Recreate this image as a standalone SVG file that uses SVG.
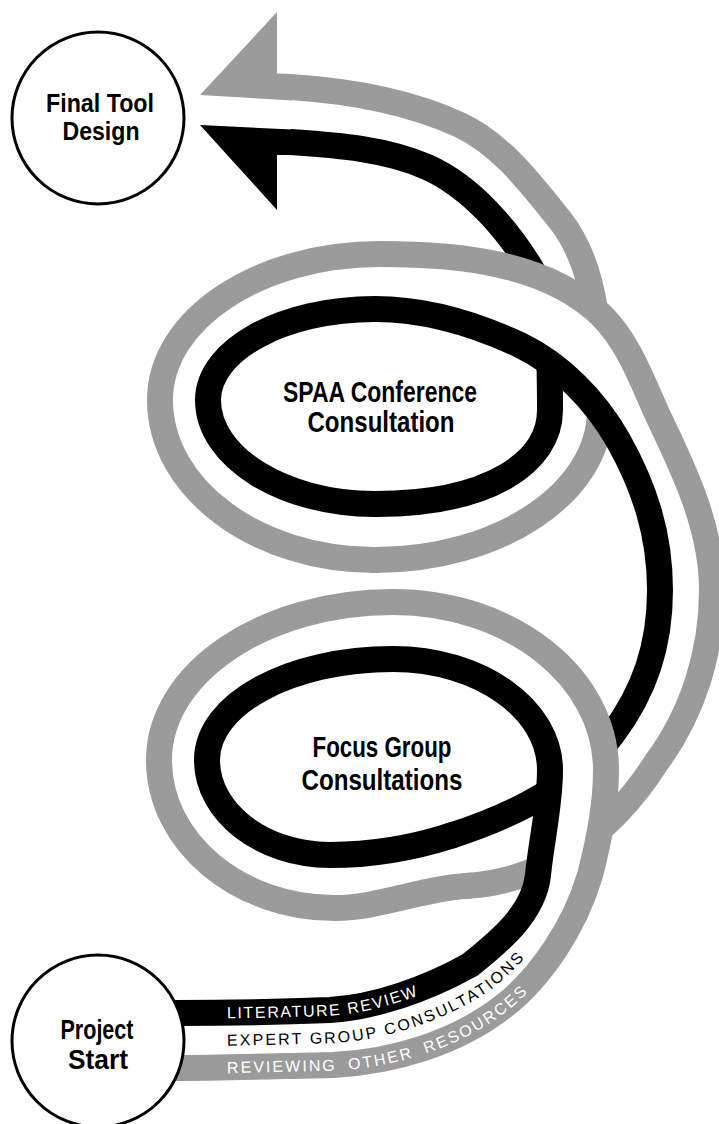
<svg xmlns="http://www.w3.org/2000/svg" width="719" height="1124" viewBox="0 0 719 1124">
  <style>
    .blk{fill:none;stroke:#000;stroke-width:26}
    .gry{fill:none;stroke:#9b9b9b;stroke-width:26}
    .gap{fill:#fff;stroke:none}
    .tipB{fill:#000}
    .tipG{fill:#9b9b9b}
    .ring{fill:#fff;stroke:#000;stroke-width:3}
    .lbl{font-family:"Liberation Sans",Arial,sans-serif;font-weight:bold;fill:#000;text-anchor:middle}
    .band{font-family:"Liberation Sans",Arial,sans-serif;font-size:16px}
  </style>
  <defs>
    <!-- section 1: start, rise, loop round the focus group label -->
    <path id="bS1" d="M175,1013 C225,1013 280,1012 330,1010 C375,1007 425,990 470,965 C500,941 534,913 538,875 C541.5,840 550,805 550,770 C550,709 480,659 393,659 C290,659 207,704 207,760 C207,812 262,855 330,855 C370,855 412,848 450,836 L455,834.4"/>
    <path id="gS1" d="M175,1068 C225,1068 283,1066 333,1065 C393,1062 457,1043 504,1006 C540,978 575,927 590,875 C599,841 606,805 606,770 C606,677 511,602 393,602 C264,602 159,673 159,760 C159,842 238,908 335,908 C379,908 424,888 466,886 L471,885.8"/>
    <path id="mS1" d="M175,1040.5 C225,1040.5 281.5,1039 331.5,1037.5 C384,1034.5 441,1016.5 487,985.5 C520,959.5 554.5,920 564,875"/>
    <!-- section 2: under-crossing, outer arc, loop round the SPAA label -->
    <path id="bS2" d="M445,837.6 L450,836 C512,816 573,787 612,735 C645,691 660,645 660,590 C660,535 645,488 618,440 C595,400 561,365 520,345 C475,324 425,309 375,309 C283,309 208,350 208,400 C208,457 283,504 375,504 L380,504"/>
    <path id="gS2" d="M461,886.1 L466,886 C545,882 612,832 656,763 C693,713 712,652 712,590 C712,530 686,474 660,420 C643,384 630,344 602,316 C547,262 457,254 380,254 C259,254 160,319 160,400 C160,488 256,560 375,560 L380,560"/>
    <!-- section 3: leaving the upper loop towards the two arrowheads -->
    <path id="bS3" d="M370,504 L375,504 C490,504 550,462 550,410 C550,360 549,299 535,275 C510,232 472,187 427,167 C384,148 333,145 290,142"/>
    <path id="gS3" d="M370,560 L375,560 C499,560 600,493 600,410 C600,345 600,271 560,220 C531,184 501,144 460,125 C406,100 345,90.5 290,87"/>
  </defs>

  <rect width="719" height="1124" fill="#fff"/>

  <g id="connectors">
    <g id="ribbon-upper">
      <use href="#gS3" class="gry"/>
      <use href="#bS3" class="blk"/>
      <path class="tipG" d="M200,95 L277,12 L277,73.5 L292,74 L292,100.5 Z"/>
      <path class="tipB" d="M200,125 L292,129.5 L292,155 L277,155 L277,210 Z"/>
    </g>
    <g id="ribbon-middle">
      <path class="gap" d="M450,836 C512,816 573,787 612,735 C645,691 660,645 660,590 C660,535 645,488 618,440 C595,400 561,365 520,345 C475,324 425,309 375,309 C283,309 208,350 208,400 C208,457 283,504 375,504 L375,560 C256,560 160,488 160,400 C160,319 259,254 380,254 C457,254 547,262 602,316 C630,344 643,384 660,420 C686,474 712,530 712,590 C712,652 693,713 656,763 C612,832 545,882 466,886 Z"/>
      <use href="#gS2" class="gry"/>
      <use href="#bS2" class="blk"/>
    </g>
    <g id="ribbon-lower">
      <path class="gap" d="M175,1013 C225,1013 280,1012 330,1010 C375,1007 425,990 470,965 C500,941 534,913 538,875 C541.5,840 550,805 550,770 C550,709 480,659 393,659 C290,659 207,704 207,760 C207,812 262,855 330,855 C370,855 412,848 450,836 L466,886 C424,888 379,908 335,908 C238,908 159,842 159,760 C159,673 264,602 393,602 C511,602 606,677 606,770 C606,805 599,841 590,875 C575,927 540,978 504,1006 C457,1043 393,1062 333,1065 C283,1066 225,1068 175,1068 Z"/>
      <use href="#gS1" class="gry"/>
      <use href="#bS1" class="blk"/>
    </g>
    <g id="ribbon-labels">
      <text class="band" fill="#fff" style="letter-spacing:1.6px"><textPath href="#bS1" startOffset="52"><tspan dy="5.7">LITERATURE REVIEW</tspan></textPath></text>
      <text class="band" fill="#000" style="letter-spacing:2.1px"><textPath href="#mS1" startOffset="52"><tspan dy="5.7">EXPERT GROUP CONSULTATIONS</tspan></textPath></text>
      <text class="band" fill="#fff" style="letter-spacing:2px;word-spacing:5px"><textPath href="#gS1" startOffset="52"><tspan dy="5.7">REVIEWING OTHER RESOURCES</tspan></textPath></text>
    </g>
  </g>

  <g id="node-final">
    <circle class="ring" cx="98" cy="118" r="86"/>
    <text class="lbl" x="100" y="112" font-size="26" textLength="108" lengthAdjust="spacingAndGlyphs">Final Tool</text>
    <text class="lbl" x="101" y="140" font-size="26" textLength="77" lengthAdjust="spacingAndGlyphs">Design</text>
  </g>

  <g id="node-spaa">
    <text class="lbl" x="380" y="402" font-size="29" textLength="194" lengthAdjust="spacingAndGlyphs">SPAA Conference</text>
    <text class="lbl" x="381" y="432" font-size="29" textLength="147" lengthAdjust="spacingAndGlyphs">Consultation</text>
  </g>

  <g id="node-focus">
    <text class="lbl" x="382" y="757" font-size="29" textLength="139" lengthAdjust="spacingAndGlyphs">Focus Group</text>
    <text class="lbl" x="382" y="790" font-size="29" textLength="161" lengthAdjust="spacingAndGlyphs">Consultations</text>
  </g>

  <g id="node-start">
    <circle class="ring" cx="98" cy="1041" r="86"/>
    <text class="lbl" x="97" y="1039" font-size="28" textLength="73" lengthAdjust="spacingAndGlyphs">Project</text>
    <text class="lbl" x="98" y="1069" font-size="28" textLength="60" lengthAdjust="spacingAndGlyphs">Start</text>
  </g>
</svg>
